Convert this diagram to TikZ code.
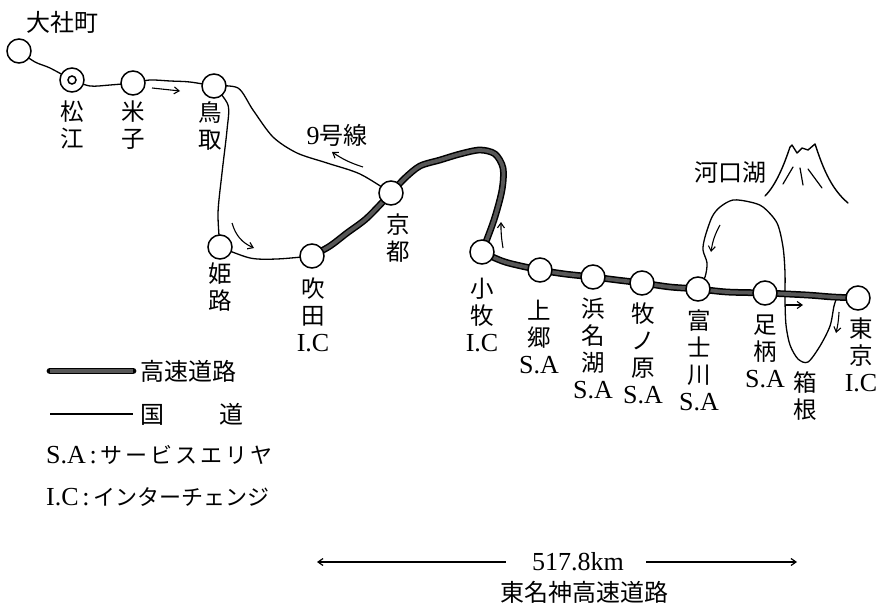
\documentclass[tikz,border=0pt]{standalone}
\usepackage{fontspec}
\setmainfont{Liberation Serif}
\newfontfamily\jpfont{Noto Sans CJK JP}
\usetikzlibrary{arrows.meta,backgrounds}

% Latin text inside Japanese labels
\newcommand{\lat}[1]{{\rmfamily\fontsize{26}{27}\selectfont #1}}
% widened katakana spacing in the legend
\newcommand{\ks}{\kern3pt}

\tikzset{
  station/.style={circle, draw, fill=white, line width=1.5pt, minimum size=24pt, inner sep=0pt},
  inner ring/.style={circle, draw, line width=1.5pt, minimum size=8pt, inner sep=0pt},
  lbl/.style={anchor=north, align=center, inner sep=0pt, font=\jpfont\fontsize{23.5}{27}\selectfont},
  jtext/.style={inner sep=0pt, font=\jpfont\fontsize{24}{27}\selectfont},
  nat/.style={line width=1.3pt, line cap=round, line join=round},
  expy/.style={line width=3.8pt, draw=black!66, line cap=round, line join=round,
               preaction={draw=black, line width=6.8pt, line cap=round, line join=round}},
  dirarrow/.style={line width=1.1pt, -{Straight Barb[length=5pt,width=7pt]}},
}

\begin{document}
\begin{tikzpicture}[x=1pt, y=-1pt]
\useasboundingbox (0,0) rectangle (882,607);

% ---------- stations ----------
\node[station] (taisha)     at (19,51)  {};
\node[station] (matsue)     at (72,80)  {};
\node[inner ring] (matsuein) at (matsue) {};
\node[station] (yonago)     at (133,83) {};
\node[station] (tottori)    at (214,86) {};
\node[station] (himeji)     at (220,247) {};
\node[station] (suita)      at (312,256) {};
\node[station] (kyoto)      at (391,193) {};
\node[station] (komaki)     at (482,252) {};
\node[station] (kamigo)     at (540,270) {};
\node[station] (hamanako)   at (593,277) {};
\node[station] (makinohara) at (642,283) {};
\node[station] (fujikawa)   at (698,289) {};
\node[station] (ashigara)   at (765,293) {};
\node[station] (tokyo)      at (858,298) {};
\coordinate (hakonejoin) at (837,297);

% ---------- roads ----------
\begin{scope}[on background layer]
  % national routes
  \draw[nat] plot[smooth] coordinates {(taisha) (35,62) (50,68) (matsue)};
  \draw[nat] plot[smooth] coordinates {(matsue) (90,86) (110,85) (yonago)};
  \draw[nat] plot[smooth] coordinates {(yonago) (150,80) (170,81) (190,82) (tottori)};
  \draw[nat] plot[smooth] coordinates {(tottori) (238,88) (253,110) (273,137) (297,153) (327,163) (360,174) (kyoto)};
  \draw[nat] plot[smooth] coordinates {(tottori) (228,105) (227,130) (222,173) (218,213) (himeji)};
  \draw[nat] plot[smooth] coordinates {(himeji) (250,258) (277,259) (suita)};
  % Kawaguchiko and Hakone loop
  \draw[nat] plot[smooth] coordinates {(fujikawa) (705,277) (707,263) (703,250) (705,237)
      (712,217) (720,207) (733,200) (750,202) (763,207) (777,223) (783,247) (785,273)
      (785,300) (786,325) (790,345) (798,359) (808,362) (820,346) (830,326) (834,306) (hakonejoin)};
  % expressway
  \draw[expy] plot[smooth] coordinates {(suita) (330,246) (347,233) (367,218) (kyoto)};
  \draw[expy] plot[smooth] coordinates {(kyoto) (405,178) (420,166) (440,160) (460,154)
      (480,150) (495,154) (503,168) (502,190) (494,220) (komaki)};
  \draw[expy] plot[smooth] coordinates {(komaki) (505,262) (kamigo) (565,274) (hamanako)
      (617,280) (makinohara) (670,287) (fujikawa) (727,292) (ashigara) (807,295) (833,297) (tokyo)};
\end{scope}

% ---------- direction arrows ----------
\coordinate (a1s) at (152,88);  \coordinate (a1e) at (180,91);
\coordinate (a2s) at (363,167); \coordinate (a2e) at (332,152);
\coordinate (a3s) at (232,223); \coordinate (a3e) at (254,248);
\coordinate (a4s) at (503,248); \coordinate (a4e) at (501,222);
\coordinate (a5s) at (720,225); \coordinate (a5e) at (711,252);
\coordinate (a6s) at (786,305); \coordinate (a6e) at (803,305);
\coordinate (a7s) at (839,312); \coordinate (a7e) at (836,333);
\draw[dirarrow] (a1s) -- (a1e);
\draw[dirarrow] (a2s) to[bend left=8] (a2e);
\draw[dirarrow] (a3s) to[bend right=25] (a3e);
\draw[dirarrow] (a4s) to[bend left=5] (a4e);
\draw[dirarrow] (a5s) to[bend right=10] (a5e);
\draw[dirarrow] (a6s) -- (a6e);
\draw[dirarrow] (a7s) to[bend left=5] (a7e);

% ---------- Mt. Fuji ----------
\draw[line width=1.4pt, line join=round, line cap=round]
  (765,196) .. controls (776,185) and (784,165) .. (790,147)
  -- (792,145) -- (797,153) -- (802,148) -- (808,150) -- (815,144)
  .. controls (822,165) and (830,188) .. (848,203);
\draw[line width=1.2pt, line cap=round] (793,167) -- (783,184);
\draw[line width=1.2pt, line cap=round] (800,168) -- (803,185);
\draw[line width=1.2pt, line cap=round] (808,169) -- (822,188);

% ---------- place names ----------
\node[jtext] (taishalbl) at (62,22) {大社町};
\node[jtext] (route9) at (337,135) {\lat{9}号線};
\node[jtext] (kawaguchi) at (730,173) {河口湖};

\node[lbl] (matsuelbl) at (72,101)  {松\\江};
\node[lbl] (yonagolbl) at (133,101) {米\\子};
\node[lbl] (tottorilbl) at (210,101) {鳥\\取};
\node[lbl] (himejilbl) at (220,263) {姫\\路};
\node[lbl] (suitalbl) at (313,278) {吹\\田\\\lat{I.C}};
\node[lbl] (kyotolbl) at (398,214) {京\\都};
\node[lbl] (komakilbl) at (482,278) {小\\牧\\\lat{I.C}};
\node[lbl] (kamigolbl) at (539,300) {上\\郷\\\lat{S.A}};
\node[lbl] (hamanakolbl) at (593,298) {浜\\名\\湖\\\lat{S.A}};
\node[lbl] (makinoharalbl) at (643,303) {牧\\ノ\\原\\\lat{S.A}};
\node[lbl] (fujikawalbl) at (699,310) {富\\士\\川\\\lat{S.A}};
\node[lbl] (ashigaralbl) at (765,315) {足\\柄\\\lat{S.A}};
\node[lbl] (hakonelbl) at (805,371) {箱\\根};
\node[lbl] (tokyolbl) at (861,318) {東\\京\\\lat{I.C}};

% ---------- legend ----------
\coordinate (lgA) at (50,371); \coordinate (lgB) at (133,371);
\coordinate (lgC) at (50,414); \coordinate (lgD) at (133,414);
\draw[expy, line cap=butt, preaction={draw=black, line width=6.8pt, line cap=butt}] (lgA) -- (lgB);
\draw[nat, line cap=butt] (lgC) -- (lgD);
\node[jtext, anchor=west] (lgexp) at (140,371) {高速道路};
\node[jtext, anchor=west] (lgnat) at (140,414) {国\hspace{55pt}道};
\node[jtext, anchor=west, font=\jpfont\fontsize{22}{27}\selectfont] (lgsa) at (46,455)
  {\lat{S.A}\,\lat{:}\,サ\ks ー\ks ビ\ks ス\ks エ\ks リ\ks ヤ};
\node[jtext, anchor=west, font=\jpfont\fontsize{22}{27}\selectfont] (lgic) at (46,497)
  {\lat{I.C}\,\lat{:}\,インターチェンジ};

% ---------- total length ----------
\node[inner sep=0pt, font=\fontsize{26}{27}\selectfont] (km) at (578,562) {517.8km};
\coordinate (kmL) at (317,562);
\coordinate (kmR) at (797,562);
\draw[dirarrow, line width=1.2pt] ([xshift=-26pt]km.west) -- (kmL);
\draw[dirarrow, line width=1.2pt] ([xshift=22pt]km.east) -- (kmR);
\node[jtext] (title) at (584,592) {東名神高速道路};
\end{tikzpicture}
\end{document}
